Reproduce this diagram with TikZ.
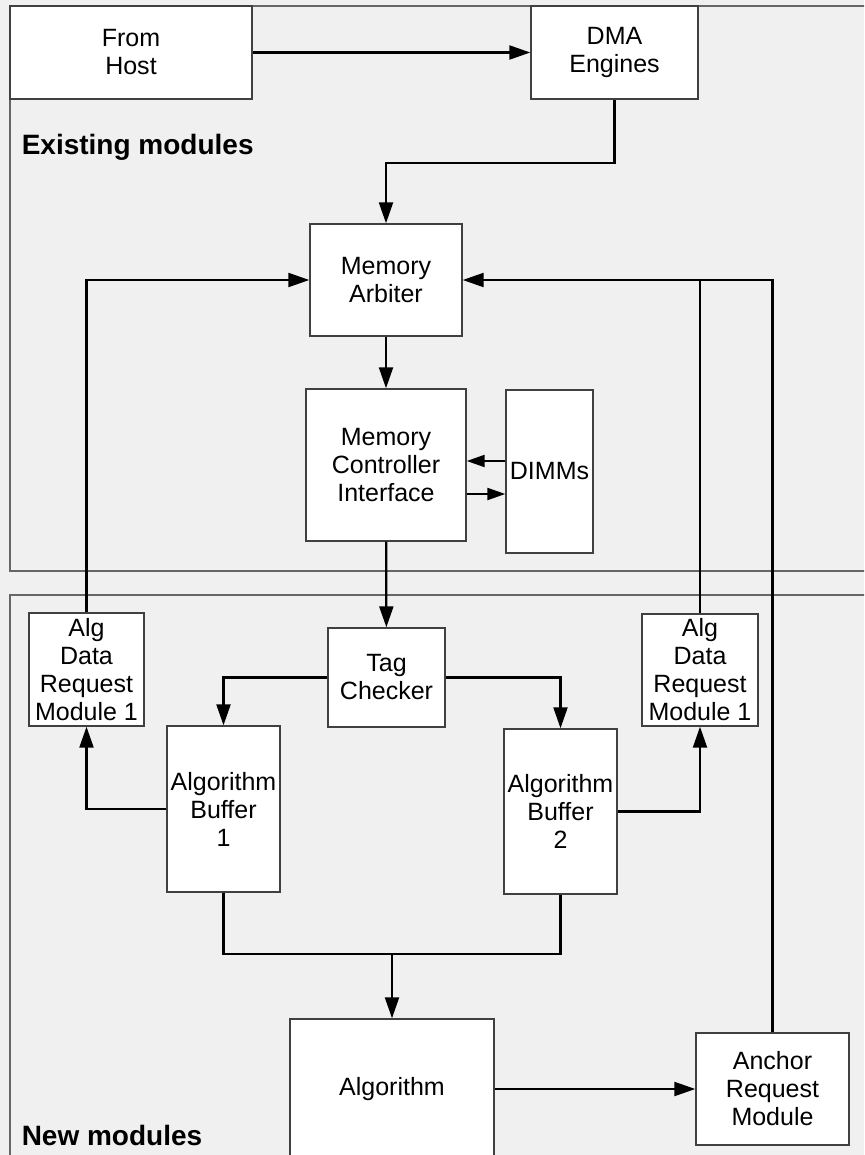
\documentclass[tikz,border=0pt]{standalone}
\usepackage{fontspec}
\setmainfont{Liberation Sans}
\usetikzlibrary{arrows.meta,calc}
\tikzset{
  box/.style={draw=black!75,line width=0.7pt,fill=white,align=center,inner sep=0pt,
    font=\fontsize{12.5}{14}\selectfont},
  grouplabel/.style={anchor=west,font=\bfseries\fontsize{14}{16}\selectfont},
  frame/.style={draw=black!60,line width=0.7pt},
  small/.style={-{Triangle[length=9pt,width=6pt]}},
}
\begin{document}
\begin{tikzpicture}[x=0.5pt,y=-0.5pt,>={Triangle[length=10.5pt,width=7pt]},line width=1.1pt]
  \useasboundingbox (0,0) rectangle (864,1155);
  \clip (0,0) rectangle (864,1155);
  \fill[black!6] (0,0) rectangle (864,1155);
  %Khung nhom
  \draw[frame] (10,6) rectangle (900,571);
  \draw[frame] (10,595) rectangle (900,1200);
  \node[grouplabel] (existing) at (14,147) {Existing modules};
  \node[grouplabel] (newmods) at (14,1135) {New modules};
  %Existing modules
  \node[box,minimum width=121pt,minimum height=46.5pt] (host) at (131,52.5) {From\\Host};
  \node[box,minimum width=83.5pt,minimum height=46.5pt] (dma) at (614.5,52.5) {DMA\\Engines};
  \node[box,minimum width=76pt,minimum height=56pt] (arbiter) at (386,280) {Memory\\Arbiter};
  \node[box,minimum width=80pt,minimum height=76pt] (mci) at (386,465) {Memory\\Controller\\Interface};
  \node[box,minimum width=43.5pt,minimum height=81.5pt] (dimms) at (549.5,471.5) {DIMMs};
  %New modules
  \node[box,minimum width=57.5pt,minimum height=56.5pt] (adrmL) at (86.5,669.5) {Alg\\Data\\Request\\Module 1};
  \node[box,minimum width=58.5pt,minimum height=49.5pt] (tag) at (386.5,677.5) {Tag\\Checker};
  \node[box,minimum width=58pt,minimum height=56pt] (adrmR) at (700,670) {Alg\\Data\\Request\\Module 1};
  \node[box,minimum width=56.5pt,minimum height=83pt] (buf1) at (223.5,809) {Algorithm\\Buffer\\1};
  \node[box,minimum width=56.5pt,minimum height=82.5pt] (buf2) at (560.5,811.5) {Algorithm\\Buffer\\2};
  \node[box,minimum width=102pt,minimum height=70pt] (alg) at (392,1089) {Algorithm};
  \node[box,minimum width=76.5pt,minimum height=56pt] (anchor) at (772.5,1089) {Anchor\\Request\\Module};
  %Mui ten
  \draw[->] (host) -- (dma);
  \draw[->] (dma.south) -- ++(0,63) -| (arbiter.north);
  \draw[->] (arbiter) -- (mci);
  \draw[small] ($(dimms.west)+(0,-10.5)$) -- ($(mci.east)+(0,-4)$);
  \draw[small] ($(mci.east)+(0,29)$) -- ($(dimms.west)+(0,22.5)$);
  \draw[->] (mci) -- (tag);
  \draw[->] (tag.west) -| (buf1.north);
  \draw[->] (tag.east) -| (buf2.north);
  \draw[->] (buf1.west) -| (adrmL.south);
  \draw[->] (buf2.east) -| (adrmR.south);
  \draw[->] (adrmL.north) |- (arbiter.west);
  \draw (adrmR.north) -- (adrmR.north |- arbiter.east);
  \draw[->] (anchor.north) |- (arbiter.east);
  %Gop hai buffer
  \coordinate (merge) at ($(alg.north)+(0,-64)$);
  \draw (buf1.south) |- (merge) -| (buf2.south);
  \draw[->] (merge) -- (alg.north);
  \draw[->] (alg.east |- anchor.west) -- (anchor.west);
\end{tikzpicture}
\end{document}
